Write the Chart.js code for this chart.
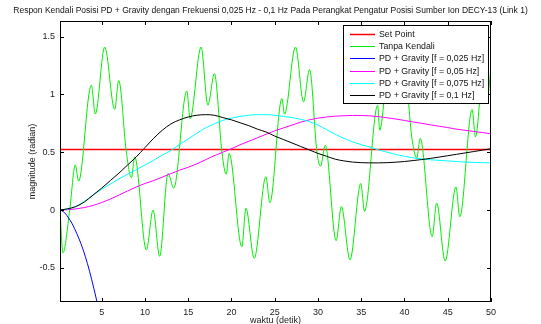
<!DOCTYPE html>
<html>
<head>
<meta charset="utf-8">
<script src="https://cdn.jsdelivr.net/npm/chart.js@4.4.0/dist/chart.umd.min.js"></script>
<style>
  html, body { margin: 0; padding: 0; background: #fff; }
  #wrap { width: 541px; height: 324px; }
</style>
</head>
<body>
<div id="wrap"><canvas id="chart" width="541" height="324"></canvas></div>
<script>
const chartTitle = "Respon Kendali Posisi PD + Gravity dengan Frekuensi 0,025 Hz - 0,1 Hz Pada Perangkat Pengatur Posisi Sumber Ion DECY-13 (Link 1)";
const xLabel = "waktu (detik)";
const yLabel = "magnitude (radian)";

const xTicks = [5, 10, 15, 20, 25, 30, 35, 40, 45, 50];
const yTicks = [-0.5, 0, 0.5, 1, 1.5];

const seriesNames = ["Set Point", "Tanpa Kendali", "PD + Gravity [f = 0,025 Hz]",
    "PD + Gravity [f = 0,05 Hz]", "PD + Gravity [f = 0,075 Hz]", "PD + Gravity [f = 0,1 Hz]"];
const seriesColors = ["rgb(255,0,0)", "#00ee00", "#0000ff", "#ff00ff", "#00ffff", "#000000"];

const setPoint = 0.5236;
const tSetPoint = [0.18, 50];

// Tanpa Kendali (green) at its turning points
const tGreen = [0.18, 0.52, 1.3, 1.95, 2.33, 3.8, 4.26, 5.35, 6.5, 6.97, 7.85, 8.43, 8.82, 10.16, 10.94, 11.7, 12.67, 13.33,
    14.84, 15.22, 16.49, 17.27, 18.03, 18.9, 19.39, 19.73, 21.2, 21.67, 22.63, 23.98, 24.44,
    25.83, 26.13, 27.4, 28.33, 29.03, 29.88, 30.3, 30.84, 32.1, 32.7, 33.7, 34.95, 35.38,
    36.9, 37.13, 38.35, 39.2, 39.95, 40.9, 41.42, 41.82, 43.2, 43.72, 44.7, 45.95, 46.39,
    47.82, 48.2, 49.3, 50];
const yGreen = [0, -0.37, 0, 0.39, 0.25, 1.08, 0.83, 1.41, 0.87, 1.12, 0.5, 0.28, 0.46, -0.345, 0, -0.4, 0.317, 0.19,
    1.03, 0.79, 1.41, 0.907, 1.18, 0.5, 0.31, 0.49, -0.317, 0.015, -0.417, 0.288, 0.063,
    0.964, 0.83, 1.41, 0.935, 1.215, 0.5, 0.38, 0.56, -0.265, 0.03, -0.43, 0.23, -0.01,
    0.907, 0.69, 1.41, 0.92, 1.22, 0.6, 0.45, 0.62, -0.23, 0.06, -0.44, 0.2, -0.058,
    0.87, 0.633, 1.4, 0.98];

// f = 0,025 Hz (blue)
const tBlue = [0.18, 0.6, 1.1, 1.6, 2.1, 2.6, 3.1, 3.6, 4.1, 4.5, 4.9];
const yBlue = [0, -0.015, -0.06, -0.12, -0.2, -0.29, -0.4, -0.53, -0.68, -0.81, -0.95];

// f = 0,05 / 0,075 / 0,1 Hz
const tSlow = [0.18, 1, 2, 3, 4, 5, 6, 7, 8, 9, 10, 11, 12, 13, 14, 15, 16, 17, 18, 19, 20,
    21, 22, 23, 24, 25, 26, 27, 28, 29, 30, 31, 32, 33, 34, 35, 36, 37, 38, 39, 40,
    41, 42, 43, 44, 45, 46, 47, 48, 49, 50];
const yMagenta = [0, 0.003, 0.01, 0.022, 0.04, 0.065, 0.095, 0.13, 0.165, 0.2, 0.23,
    0.255, 0.285, 0.315, 0.345, 0.37, 0.4, 0.435, 0.47, 0.5, 0.53,
    0.565, 0.595, 0.625, 0.655, 0.685, 0.71, 0.735, 0.76, 0.78, 0.795,
    0.805, 0.812, 0.816, 0.818, 0.818, 0.815, 0.808, 0.798, 0.787, 0.775,
    0.762, 0.75, 0.737, 0.725, 0.713, 0.7, 0.69, 0.68, 0.67, 0.66];
const yCyan = [0, 0.008, 0.03, 0.075, 0.13, 0.18, 0.225, 0.27, 0.31, 0.35, 0.39,
    0.43, 0.475, 0.515, 0.568, 0.615, 0.665, 0.71, 0.745, 0.775, 0.795,
    0.81, 0.82, 0.825, 0.825, 0.82, 0.81, 0.8, 0.785, 0.765, 0.735,
    0.695, 0.655, 0.62, 0.59, 0.565, 0.545, 0.52, 0.5, 0.48, 0.465,
    0.452, 0.442, 0.435, 0.43, 0.425, 0.42, 0.415, 0.412, 0.41, 0.408];
const yBlack = [0, 0.01, 0.03, 0.07, 0.13, 0.19, 0.255, 0.32, 0.39, 0.46, 0.54,
    0.62, 0.69, 0.745, 0.78, 0.805, 0.82, 0.825, 0.82, 0.8, 0.78,
    0.755, 0.73, 0.7, 0.675, 0.64, 0.61, 0.58, 0.55, 0.52, 0.49,
    0.465, 0.44, 0.425, 0.415, 0.41, 0.408, 0.408, 0.41, 0.414, 0.42,
    0.428, 0.437, 0.447, 0.458, 0.47, 0.482, 0.494, 0.506, 0.518, 0.53];

const FONT = "'Liberation Sans', Arial, sans-serif";

function pairs(xs, ys) {
    return xs.map((x, i) => ({ x: x, y: ys[i] }));
}

const seriesData = [
    pairs(tSetPoint, tSetPoint.map(() => setPoint)),
    pairs(tGreen, yGreen),
    pairs(tBlue, yBlue),
    pairs(tSlow, yMagenta),
    pairs(tSlow, yCyan),
    pairs(tSlow, yBlack),
];

// inward ticks on all four sides, the box, the legend and the title (MATLAB look)
const matlabFrame = {
    id: "matlabFrame",
    afterDatasetsDraw(chart) {
        const ctx = chart.ctx;
        const a = chart.chartArea;
        const sx = chart.scales.x, sy = chart.scales.y;
        ctx.save();
        ctx.strokeStyle = "#000";
        ctx.lineWidth = 1;
        ctx.beginPath();
        xTicks.forEach(v => {
            const px = Math.round(sx.getPixelForValue(v)) + 0.5;
            ctx.moveTo(px, a.bottom); ctx.lineTo(px, a.bottom - 4);
            ctx.moveTo(px, a.top); ctx.lineTo(px, a.top + 4);
        });
        yTicks.forEach(v => {
            const py = Math.round(sy.getPixelForValue(v)) + 0.5;
            ctx.moveTo(a.left, py); ctx.lineTo(a.left + 4, py);
            ctx.moveTo(a.right, py); ctx.lineTo(a.right - 4, py);
        });
        ctx.stroke();
        ctx.strokeRect(a.left + 0.5, a.top + 0.5, a.right - a.left - 1, a.bottom - a.top - 1);

        // legend
        const lx = a.right - 148, ly = a.top + 4, lw = 145, lh = 78;
        ctx.fillStyle = "#fff";
        ctx.fillRect(lx, ly, lw, lh);
        ctx.strokeRect(lx + 0.5, ly + 0.5, lw, lh);
        ctx.font = "8.8px " + FONT;
        ctx.textBaseline = "middle";
        ctx.textAlign = "left";
        chart.data.datasets.forEach((ds, i) => {
            const ry = Math.round(ly + 9 + i * 12.2) + 0.5;
            ctx.strokeStyle = ds.borderColor;
            ctx.lineWidth = ds.borderWidth;
            ctx.beginPath();
            ctx.moveTo(lx + 7, ry); ctx.lineTo(lx + 32, ry);
            ctx.stroke();
            ctx.fillStyle = "#111";
            ctx.fillText(ds.label, lx + 36, ry);
        });

        // title
        ctx.font = "8.5px " + FONT;
        ctx.textAlign = "center";
        ctx.fillStyle = "#111";
        ctx.fillText(chartTitle, chart.width / 2, 11);
        ctx.restore();
    }
};

new Chart(document.getElementById("chart"), {
    type: "line",
    data: {
        datasets: seriesData.map((d, i) => ({
            label: seriesNames[i],
            data: d,
            borderColor: seriesColors[i],
            borderWidth: i === 0 ? 1.5 : 1,
            pointRadius: 0,
            fill: false,
            cubicInterpolationMode: i === 0 ? "default" : "monotone",
            order: seriesNames.length - i,
        }))
    },
    options: {
        responsive: false,
        animation: false,
        events: [],
        layout: { padding: { top: 21, right: 50, left: 0, bottom: 0 } },
        plugins: {
            legend: { display: false },
            tooltip: { enabled: false },
        },
        scales: {
            x: {
                type: "linear",
                min: 0.18,
                max: 50,
                afterBuildTicks: s => { s.ticks = xTicks.map(v => ({ value: v })); },
                afterFit: s => { s.height = 22; },
                grid: { display: false, drawTicks: false },
                border: { display: false },
                ticks: {
                    color: "#222",
                    font: { family: FONT, size: 9 },
                    padding: 5,
                    maxRotation: 0,
                    callback: v => String(v),
                },
                title: {
                    display: true,
                    text: xLabel,
                    color: "#222",
                    font: { family: FONT, size: 9 },
                    padding: { top: 0, bottom: -2 },
                },
            },
            y: {
                type: "linear",
                min: -0.795,
                max: 1.635,
                afterBuildTicks: s => { s.ticks = yTicks.map(v => ({ value: v })); },
                afterFit: s => { s.width = 60; },
                grid: { display: false, drawTicks: false },
                border: { display: false },
                ticks: {
                    color: "#222",
                    font: { family: FONT, size: 9 },
                    padding: 5,
                    callback: v => String(v),
                },
                title: {
                    display: true,
                    text: yLabel,
                    color: "#222",
                    font: { family: FONT, size: 9 },
                    padding: { top: 27, bottom: 0 },
                },
            },
        },
    },
    plugins: [matlabFrame],
});
</script>
</body>
</html>
